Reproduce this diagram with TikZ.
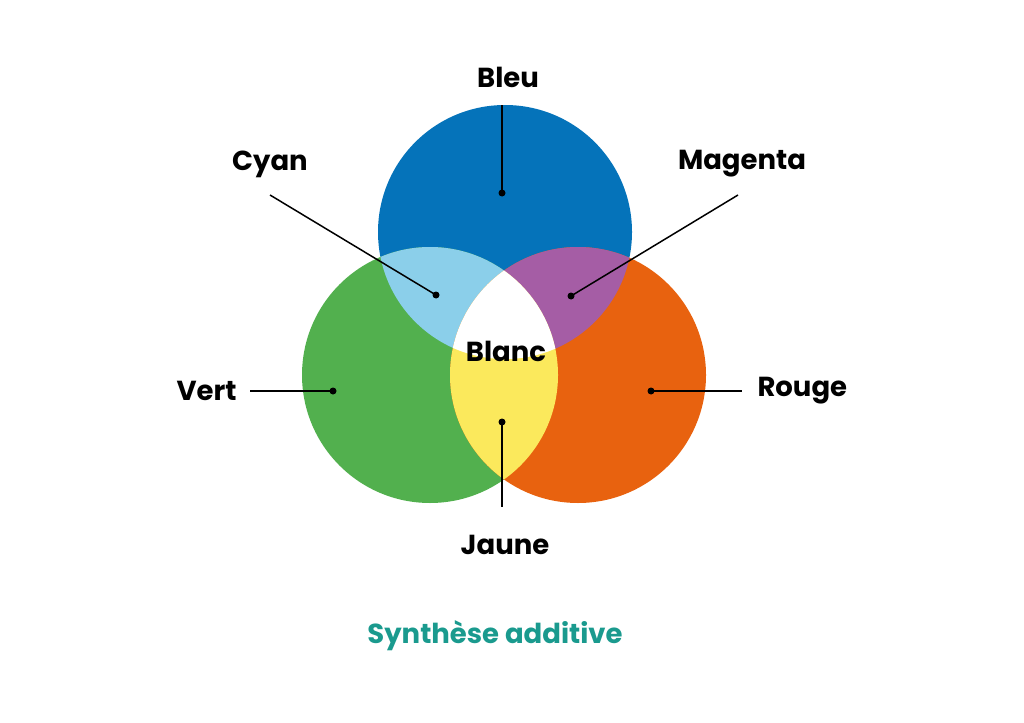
\documentclass[tikz,border=0pt]{standalone}
\usepackage{fontspec}
\setmainfont{Poppins}
\begin{document}
\begin{tikzpicture}[x=1pt,y=-1pt,
  lab/.style={font=\bfseries\fontsize{27.5}{30}\selectfont},
  dot/.style={circle,fill=black,inner sep=0pt,minimum size=7pt},
  ln/.style={line width=1.5pt}]
\definecolor{cB}{HTML}{0573BA}
\definecolor{cG}{HTML}{52B04E}
\definecolor{cR}{HTML}{E8620F}
\definecolor{cC}{HTML}{8BCFEA}
\definecolor{cM}{HTML}{A55DA5}
\definecolor{cY}{HTML}{FBE95C}
\definecolor{cT}{HTML}{1A9A8E}
\useasboundingbox (0,0) rectangle (1024,722);
\def\B{(505,232) circle (127)}
\def\G{(430,375) circle (128)}
\def\R{(578,375) circle (128)}
\fill[cB] \B; \fill[cG] \G; \fill[cR] \R;
\begin{scope}\clip \B; \fill[cC] \G; \end{scope}
\begin{scope}\clip \B; \fill[cM] \R; \end{scope}
\begin{scope}\clip \G; \fill[cY] \R; \end{scope}
\begin{scope}\clip \B; \clip \G; \fill[white] \R; \end{scope}
\node[dot] (db) at (502,193) {};
\node[dot] (dc) at (436,295) {};
\node[dot] (dm) at (571,296) {};
\node[dot] (dv) at (333,391) {};
\node[dot] (dr) at (651,391) {};
\node[dot] (dj) at (502,422) {};
\coordinate (eb) at (502,105);
\coordinate (ec) at (270,195);
\coordinate (em) at (738,195);
\coordinate (ev) at (250,391);
\coordinate (er) at (742,391);
\coordinate (ej) at (502,507);
\foreach \a/\b in {db/eb,dc/ec,dm/em,dv/ev,dr/er,dj/ej} \draw[ln] (\a.center)--(\b);
\node[lab] (tb) at (508,77) {Bleu};
\node[lab] (tc) at (270,164) {Cyan};
\node[lab] (tm) at (742,164) {Magenta};
\node[lab,anchor=east] (tv) at (240,391) {Vert};
\node[lab,anchor=west] (tr) at (754,391) {Rouge};
\node[lab] (tj) at (505,545) {Jaune};
\node[lab] (tw) at (506,351) {Blanc};
\node[lab,text=cT] (tt) at (495,636) {Synthèse additive};
\end{tikzpicture}
\end{document}
